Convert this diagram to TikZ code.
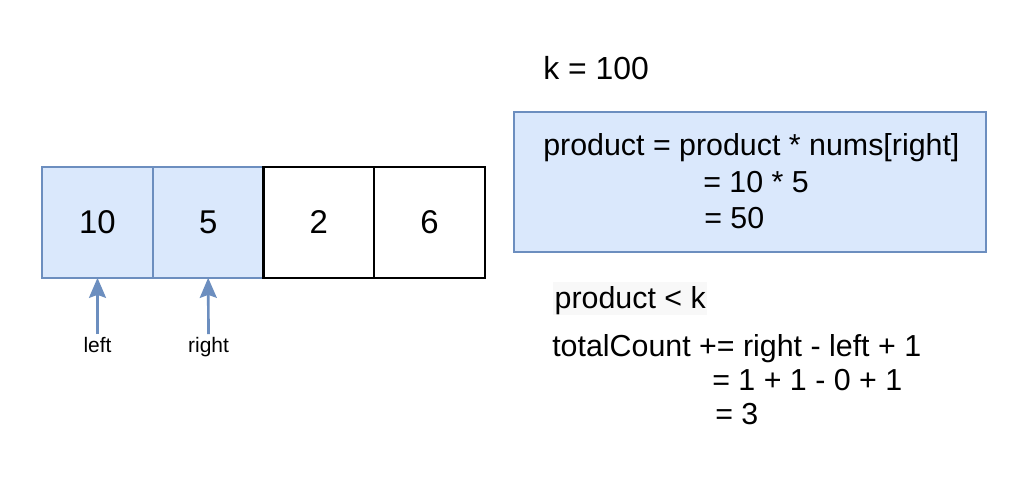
\documentclass[tikz,border=0pt]{standalone}
\usepackage{fontspec}
\setmainfont{Liberation Sans}
\usepackage{xcolor}
\usepackage{tikz}
\usetikzlibrary{arrows.meta, positioning}

\definecolor{cellfill}{HTML}{DAE8FC}
\definecolor{celldraw}{HTML}{6C8EBF}
\definecolor{notebg}{HTML}{F8F8F8}

\begin{document}
\begin{tikzpicture}[x=0.025cm, y=-0.025cm,
    cellB/.style={draw=celldraw, fill=cellfill, line width=1.5pt, minimum size=78.7pt,
      inner sep=0pt, outer sep=0pt, font=\fontsize{23.4pt}{28pt}\selectfont},
    cellK/.style={cellB, draw=black, fill=white},
    txt/.style={inner sep=0pt, anchor=base west, font=\fontsize{21.6pt}{26pt}\selectfont},
    ptrlabel/.style={inner sep=2pt, anchor=base, font=\fontsize{14.9pt}{18pt}\selectfont},
    ptr/.style={draw=celldraw, line width=1.9pt,
      -{Stealth[length=14.2pt, width=12pt, inset=2.1pt]}}]
      % page size
      \useasboundingbox[fill=white] (0,0) rectangle (1016,478);
      % the array
      \node[cellB] (n10) at (97.5,222.5) {10};
      \node[cellB, right=0pt of n10] (n5) {5};
      \node[cellK, right=0pt of n5] (n2) {2};
      \node[cellK, right=0pt of n2] (n6) {6};
      % pointers
      \node[ptrlabel] (lft) at (97.5,352.5) {left};
      \node[ptrlabel] (rgt) at (208.5,352.5) {right};
      \draw[ptr] (lft.north) -- (n10.south);
      \draw[ptr] (rgt.north) -- (n5.south);
      % k
      \node[txt, font=\fontsize{22.7pt}{27pt}\selectfont] (kval) at (543,80) {k = 100};
      % product box
      \node[draw=celldraw, fill=cellfill, line width=1.5pt, minimum width=335.9pt,
        minimum height=99.2pt, outer sep=0pt] (prod) at (750,182) {};
      \node[txt] (prod1) at (543,156) {product = product * nums[right]};
      \node[txt] (prod2) at (703,193) {= 10 * 5};
      \node[txt] (prod3) at (704,228.5) {= 50};
      % check against k
      \node[txt, fill=notebg, inner xsep=1pt, text height=18.4pt, text depth=5pt]
        (cmp) at (553,308) {product < k};
      % count update
      \node[txt] (cnt1) at (552,356) {totalCount += right - left + 1};
      \node[txt] (cnt2) at (712,390.5) {= 1 + 1 - 0 + 1};
      \node[txt] (cnt3) at (715,424.5) {= 3};
    \end{tikzpicture}
\end{document}
